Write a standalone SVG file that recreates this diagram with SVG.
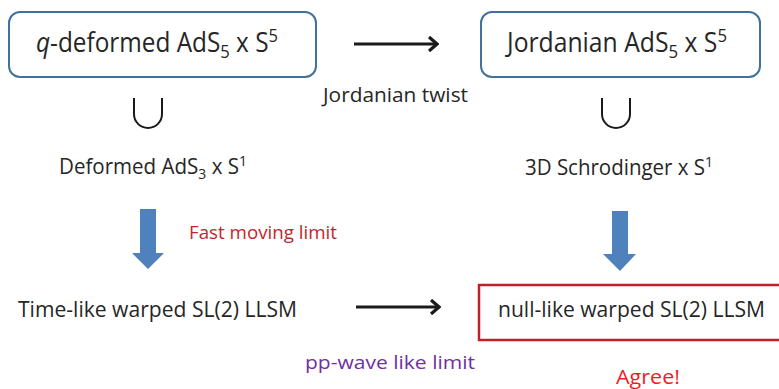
<svg xmlns="http://www.w3.org/2000/svg" width="779" height="389" viewBox="0 0 779 389">
<style>
text{font-family:"Open Sans","Liberation Sans",sans-serif;fill:#262626}
.box{fill:#fff;stroke:#41719c;stroke-width:2}
.big{font-size:27px}
.mid{font-size:21px}
.sub{font-size:0.68em}
.sup{font-size:0.68em}
.blk{stroke:#1a1a1a;stroke-width:3.2;fill:none}
.blue{fill:#4f81bd}
.sset{stroke:#1a1a1a;stroke-width:2;fill:none}
</style>
<defs>
<marker id="open" viewBox="0 0 12 16" refX="10" refY="8" markerWidth="12" markerHeight="16" markerUnits="userSpaceOnUse" orient="auto">
<path d="M2,1 L10,8 L2,15" fill="none" stroke="#1a1a1a" stroke-width="3.2"/>
</marker>
</defs>
<g id="node-qdeformed">
<rect class="box" x="9" y="12" width="307" height="65" rx="11"/>
<text class="big" x="36" y="52" textLength="242" lengthAdjust="spacingAndGlyphs"><tspan font-style="italic">q</tspan>-deformed AdS<tspan class="sub" dy="6">5</tspan><tspan dy="-6"> x S</tspan><tspan class="sup" dy="-10">5</tspan></text>
</g>
<g id="node-jordanian">
<rect class="box" x="481" y="12" width="279" height="65" rx="11"/>
<text class="big" x="507" y="52" textLength="220" lengthAdjust="spacingAndGlyphs">Jordanian AdS<tspan class="sub" dy="6">5</tspan><tspan dy="-6"> x S</tspan><tspan class="sup" dy="-10">5</tspan></text>
</g>
<g id="node-deformed-ads3">
<text class="mid" x="59" y="174" textLength="188" lengthAdjust="spacingAndGlyphs">Deformed AdS<tspan class="sub" dy="5">3</tspan><tspan dy="-5"> x S</tspan><tspan class="sup" dy="-8">1</tspan></text>
</g>
<g id="node-schrodinger">
<text class="mid" x="525" y="175" textLength="188" lengthAdjust="spacingAndGlyphs">3D Schrodinger x S<tspan class="sup" dy="-8">1</tspan></text>
</g>
<g id="node-timelike">
<text class="mid" x="18" y="317" textLength="279" lengthAdjust="spacingAndGlyphs">Time-like warped SL(2) LLSM</text>
</g>
<g id="node-nulllike">
<rect x="479" y="285" width="320" height="55" fill="#fff" stroke="#c0202a" stroke-width="2.5"/>
<text class="mid" x="498" y="317" textLength="267" lengthAdjust="spacingAndGlyphs">null-like warped SL(2) LLSM</text>
</g>
<g id="connectors">
<line class="blk" x1="354" y1="44" x2="437" y2="44" marker-end="url(#open)"/>
<line class="blk" x1="356" y1="307" x2="439" y2="307" marker-end="url(#open)"/>
<path class="sset" d="M134,98 V114 A14,14 0 0 0 162,114 V98"/>
<path class="sset" d="M602,98 V114 A14,14 0 0 0 630,114 V98"/>
<polygon class="blue" points="140,209 156,209 156,253 164,253 148,269 132,253 140,253"/>
<polygon class="blue" points="612,211 628,211 628,254 636,254 620,271 603,254 612,254"/>
<text x="323" y="102" font-size="20" textLength="145" lengthAdjust="spacingAndGlyphs">Jordanian twist</text>
<text x="189" y="239" font-size="18" style="fill:#c0272d" textLength="148" lengthAdjust="spacingAndGlyphs">Fast moving limit</text>
<text x="305" y="369" font-size="19" style="fill:#7030a0" textLength="170" lengthAdjust="spacingAndGlyphs">pp-wave like limit</text>
<text x="616" y="384" font-size="20" style="fill:#ee1c24" textLength="64" lengthAdjust="spacingAndGlyphs">Agree!</text>
</g>
</svg>
